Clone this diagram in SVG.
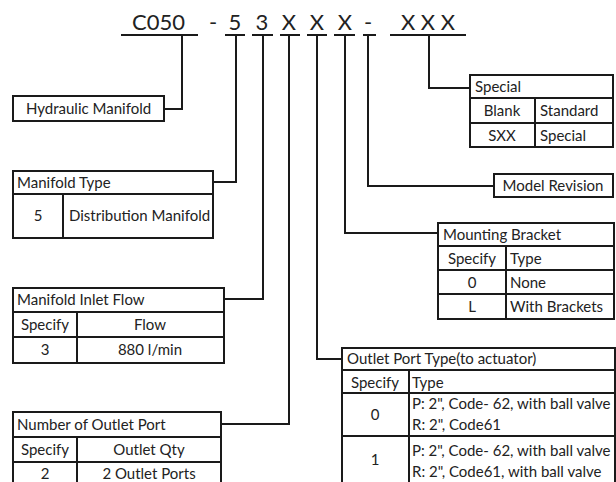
<svg xmlns="http://www.w3.org/2000/svg" width="616" height="482" viewBox="0 0 616 482">
<style>
text{font-family:Lato,"Open Sans","Liberation Sans",sans-serif;font-size:15px;fill:#222}
.h{font-size:22px}
.m{text-anchor:middle}
.box{fill:#fff;stroke:#1a1a1a;stroke-width:2}
.ln{fill:none;stroke:#1a1a1a;stroke-width:2}
.ul{fill:none;stroke:#1a1a1a;stroke-width:2}
</style>
<rect width="616" height="482" fill="#fff"/>
<g id="code">
<text class="h" x="132" y="30">C050</text>
<text class="h m" x="213" y="30">-</text>
<text class="h m" x="235" y="30">5</text>
<text class="h m" x="262" y="30">3</text>
<text class="h m" x="289" y="30">X</text>
<text class="h m" x="317" y="30">X</text>
<text class="h m" x="345" y="30">X</text>
<text class="h m" x="368" y="30">-</text>
<text class="h m" x="428" y="30">X X X</text>
<path class="ul" d="M121 35H198M225 35H245M252 35H273M280 35H300M307 35H327M334 35H355M363 35H376M390 35H466"/>
</g>
<g id="connectors">
<path class="ln" d="M182 35V109H164"/>
<path class="ln" d="M236 35V182H213"/>
<path class="ln" d="M263 35V299H224"/>
<path class="ln" d="M289 35V424H221"/>
<path class="ln" d="M317 35V359H342"/>
<path class="ln" d="M345 35V233H438"/>
<path class="ln" d="M368 35V186H494"/>
<path class="ln" d="M429 35V88H470"/>
</g>
<g id="hydraulic-manifold">
<rect class="box" x="13" y="96" width="151" height="25"/>
<text x="26" y="114">Hydraulic Manifold</text>
</g>
<g id="manifold-type">
<rect class="box" x="13" y="171" width="200" height="67"/>
<path class="ln" d="M13 194H213M63 194V238"/>
<text x="17" y="188">Manifold Type</text>
<text class="m" x="38" y="221">5</text>
<text x="69" y="221">Distribution Manifold</text>
</g>
<g id="manifold-inlet-flow">
<rect class="box" x="13" y="288" width="211" height="75"/>
<path class="ln" d="M13 312H224M13 337H224M77 312V363"/>
<text x="17" y="305">Manifold Inlet Flow</text>
<text class="m" x="45" y="330">Specify</text>
<text class="m" x="150" y="330">Flow</text>
<text class="m" x="45" y="355">3</text>
<text class="m" x="150" y="355">880 l/min</text>
</g>
<g id="number-outlet-port">
<rect class="box" x="13" y="412" width="208" height="76"/>
<path class="ln" d="M13 437H221M13 462H221M77 437V488"/>
<text x="17" y="430">Number of Outlet Port</text>
<text class="m" x="45" y="455">Specify</text>
<text class="m" x="149" y="455">Outlet Qty</text>
<text class="m" x="45" y="479">2</text>
<text class="m" x="149" y="479">2 Outlet Ports</text>
</g>
<g id="special">
<rect class="box" x="470" y="75" width="143" height="72"/>
<path class="ln" d="M470 98H613M470 123H613M535 98V147"/>
<text x="475" y="92">Special</text>
<text class="m" x="502" y="116">Blank</text>
<text x="540" y="116">Standard</text>
<text class="m" x="502" y="141">SXX</text>
<text x="540" y="141">Special</text>
</g>
<g id="model-revision">
<rect class="box" x="494" y="174" width="119" height="23"/>
<text class="m" x="553" y="191">Model Revision</text>
</g>
<g id="mounting-bracket">
<rect class="box" x="438" y="223" width="176" height="96"/>
<path class="ln" d="M438 246H614M438 270H614M438 294H614M506 246V319"/>
<text x="443" y="240">Mounting Bracket</text>
<text class="m" x="472" y="264">Specify</text>
<text x="510" y="264">Type</text>
<text class="m" x="472" y="288">0</text>
<text x="510" y="288">None</text>
<text class="m" x="472" y="312">L</text>
<text x="510" y="312">With Brackets</text>
</g>
<g id="outlet-port-type">
<rect class="box" x="342" y="348" width="273" height="140"/>
<path class="ln" d="M342 370H615M342 393H615M342 436H615M409 370V488"/>
<text x="347" y="364">Outlet Port Type(to actuator)</text>
<text class="m" x="375" y="388">Specify</text>
<text x="412" y="388">Type</text>
<text class="m" x="375" y="420">0</text>
<text x="412" y="409">P: 2", Code- 62, with ball valve</text>
<text x="412" y="430">R: 2", Code61</text>
<text class="m" x="375" y="465">1</text>
<text x="412" y="456">P: 2", Code- 62, with ball valve</text>
<text x="412" y="477">R: 2", Code61, with ball valve</text>
</g>
</svg>
